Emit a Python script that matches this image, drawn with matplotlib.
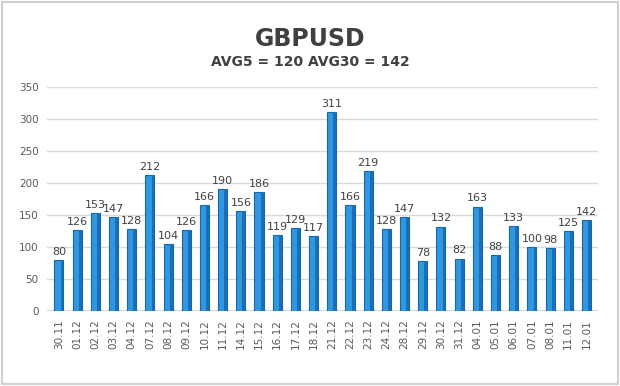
import matplotlib
matplotlib.use("Agg")
import matplotlib.pyplot as plt
from matplotlib.patches import Rectangle

dates = ["30.11","01.12","02.12","03.12","04.12","07.12","08.12","09.12","10.12","11.12",
         "14.12","15.12","16.12","17.12","18.12","21.12","22.12","23.12","24.12","28.12",
         "29.12","30.12","31.12","04.01","05.01","06.01","07.01","08.01","11.01","12.01"]
values = [80,126,153,147,128,212,104,126,166,190,156,186,119,129,117,311,166,219,128,147,
          78,132,82,163,88,133,100,98,125,142]
title = "GBPUSD"
subtitle = "AVG5 = 120 AVG30 = 142"
yticks = [0,50,100,150,200,250,300,350]

fig = plt.figure(figsize=(6.2,3.86), dpi=100)
fig.patch.set_facecolor("white")
fig.patches.append(Rectangle((0.003,0.004),0.994,0.992, transform=fig.transFigure,
                             fill=False, edgecolor="#d0d0d0", linewidth=1.5))
ax = fig.add_axes([0.076,0.194,0.889,0.581])
x = list(range(len(values)))
ax.bar(x, values, width=0.5, color="#3198e0", edgecolor="#1666a8", linewidth=0.8, zorder=3)
# darker right face for a 3D look
ax.bar([xi + 0.17 for xi in x], values, width=0.16, color="#1a6fb8", linewidth=0, zorder=3.5)
for xi, v in zip(x, values):
    ax.text(xi, v+5, str(v), ha="center", va="bottom", fontsize=8, color="#404040", zorder=4)
ax.set_xlim(-0.65, len(values)-0.35)
ax.set_ylim(0,350)
ax.set_yticks(yticks)
ax.set_yticklabels([str(t) for t in yticks], fontsize=7.5, color="#595959")
ax.set_xticks(x)
ax.set_xticklabels(dates, rotation=90, fontsize=7.5, color="#595959")
ax.tick_params(length=0, pad=6)
ax.grid(axis="y", color="#d9d9d9", linewidth=1, zorder=0)
for s in ax.spines.values():
    s.set_visible(False)
ax.axhline(0, color="#d0d0d0", linewidth=1.2, zorder=2)
fig.text(0.5, 0.90, title, ha="center", va="center", fontsize=17, fontweight="bold", color="#404040")
fig.text(0.5, 0.84, subtitle, ha="center", va="center", fontsize=10, fontweight="bold", color="#404040")
fig.savefig("out.png", dpi=100, facecolor="white")
